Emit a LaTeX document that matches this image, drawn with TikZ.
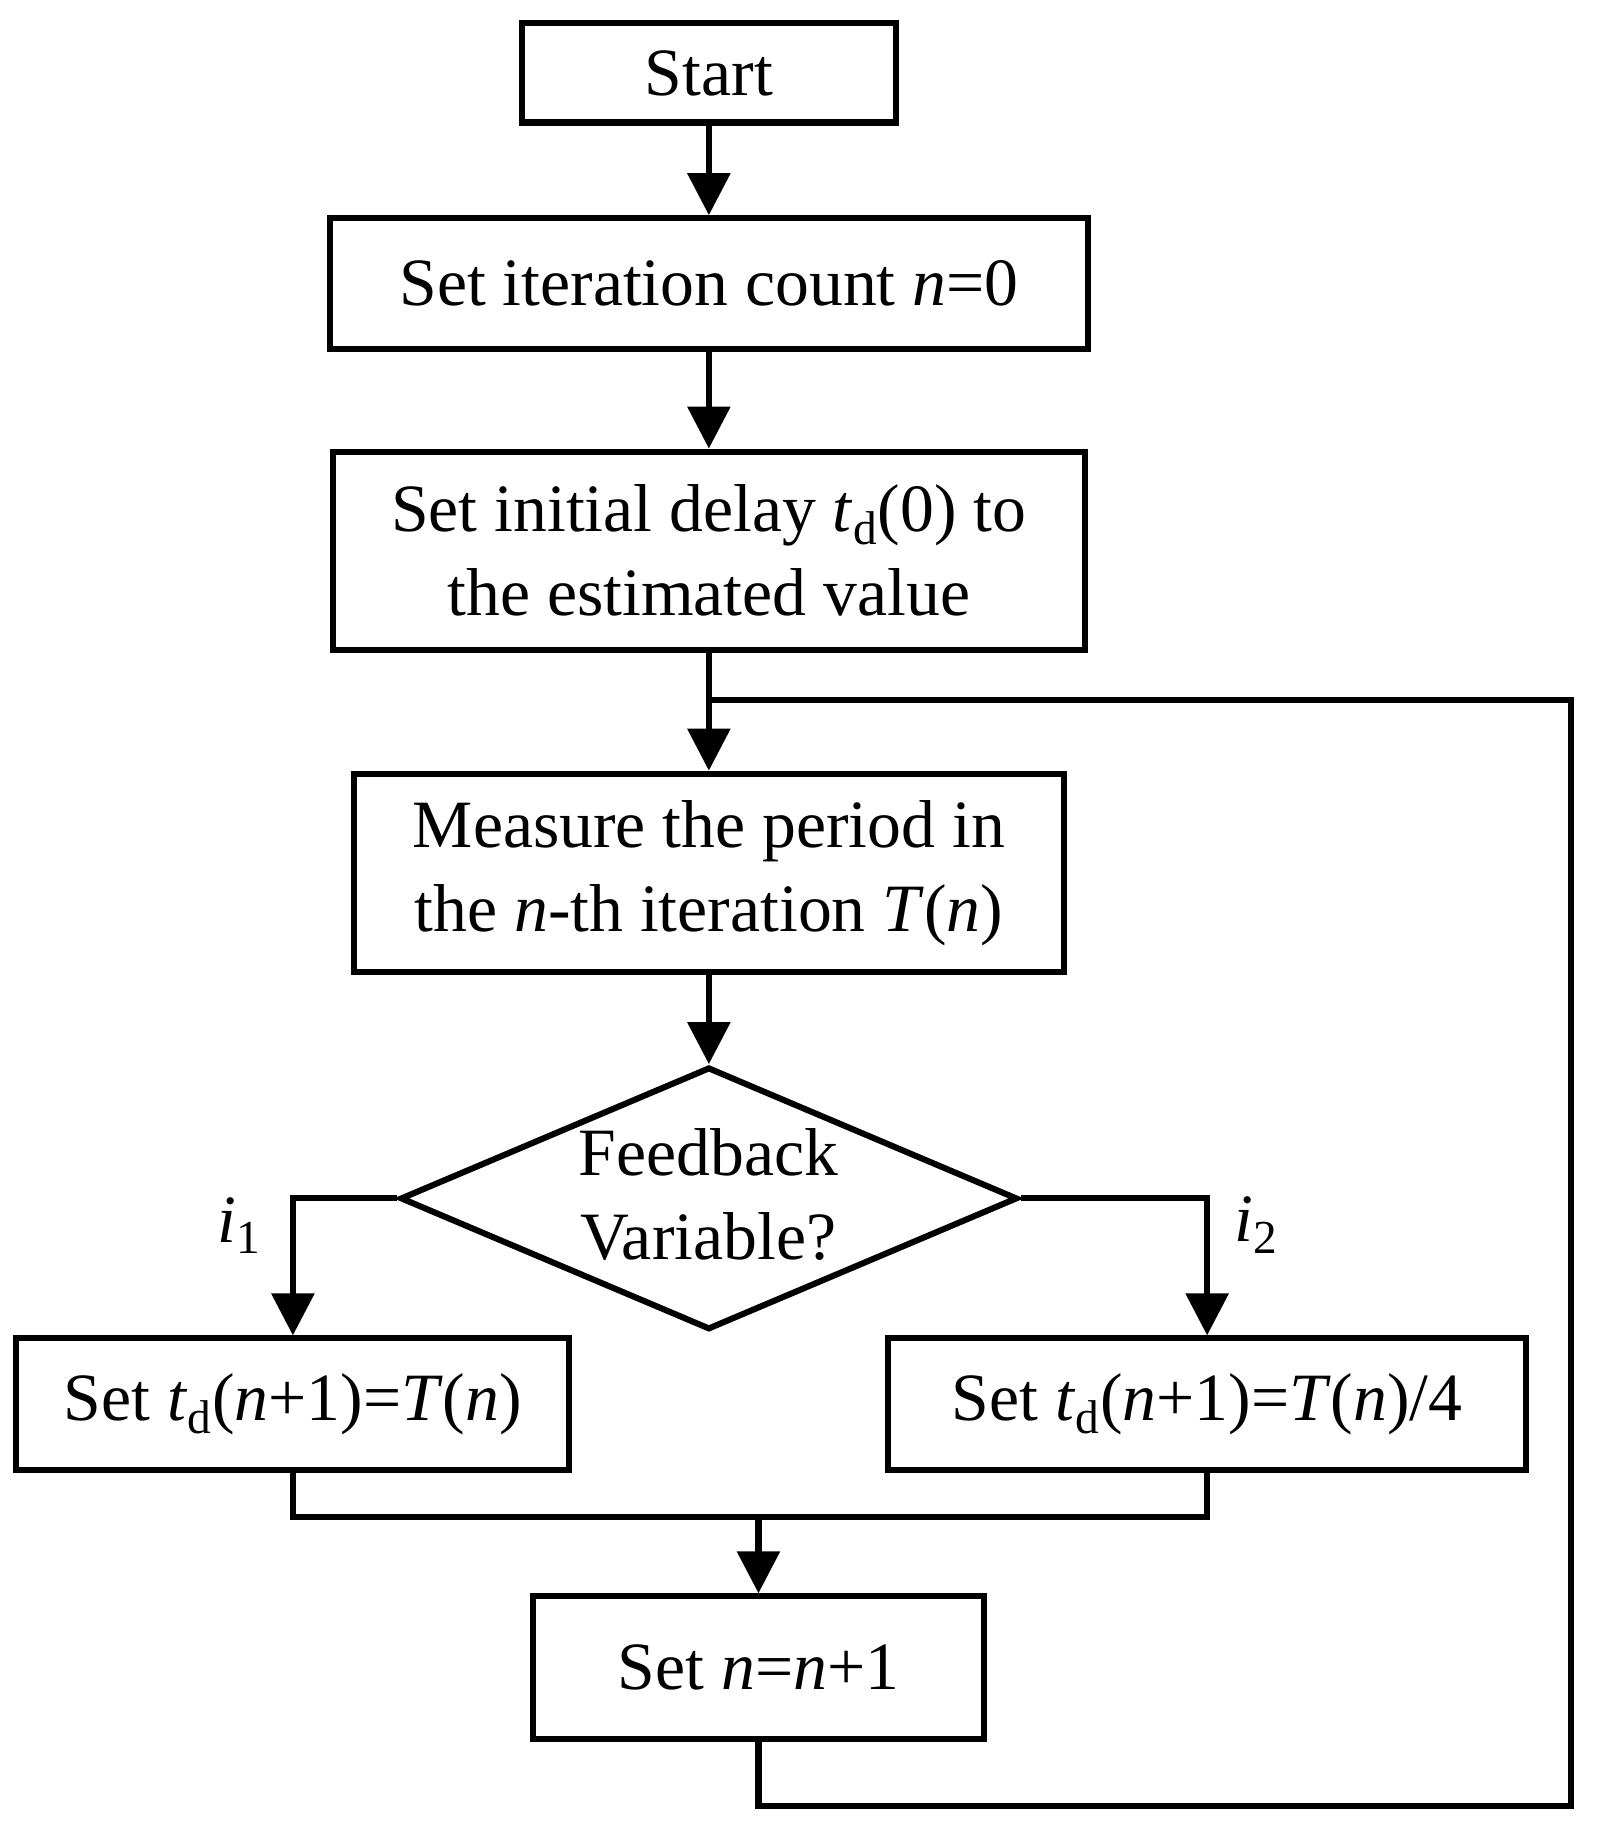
\documentclass[tikz,border=0pt]{standalone}
\usepackage{fontspec}
\setmainfont{Liberation Serif}
\usetikzlibrary{shapes.geometric,arrows.meta}
\newcommand\tdd{\textit{t}\textsubscript{d}}
\newcommand\ii[1]{\textit{#1}}
\begin{document}
\begin{tikzpicture}[x=0.5pt,y=-0.5pt,
  box/.style={draw,line width=2.6pt,minimum height=#1,align=center,inner sep=0pt,font=\fontsize{29}{36}\selectfont},
  ln/.style={line width=2.6pt},
  ar/.style={ln,-{Triangle[length=18pt,width=18pt]}}]
\useasboundingbox (0,0) rectangle (1380,1570);
\node[box=42.5pt,minimum width=160.5pt] (start) at (607.5,62.5) {Start};
\node[box=56pt,minimum width=324.5pt] (iter) at (607.5,243) {Set iteration count \ii{n}=0};
\node[box=85pt,minimum width=322.5pt] (init) at (607.5,472) {Set initial delay \tdd(0) to\\the estimated value};
\node[box=85pt,minimum width=304.5pt] (meas) at (607.5,748) {Measure the period in\\the \ii{n}-th iteration \ii{T}(\ii{n})};
\node[draw,line width=2.6pt,diamond,minimum width=264.5pt,minimum height=112.5pt,inner sep=0pt,align=center,font=\fontsize{29}{36}\selectfont] (dec) at (607.5,1027) {};
\node[font=\fontsize{29}{36}\selectfont,align=center] (dect) at (607,1024) {Feedback\\Variable?};
\node[box=56.5pt,minimum width=237pt] (left) at (251,1203.5) {Set \tdd(\ii{n}+1)=\ii{T}(\ii{n})};
\node[box=56.5pt,minimum width=273.5pt] (right) at (1034.5,1203.5) {Set \tdd(\ii{n}+1)=\ii{T}(\ii{n})/4};
\node[box=61pt,minimum width=193pt] (inc) at (650,1429) {Set \ii{n}=\ii{n}+1};
\coordinate (j1) at (607.5,600);
\coordinate (m) at (650,1300);
\draw[ar] (start) -- (iter);
\draw[ar] (iter) -- (init);
\draw[ar] (init) -- (meas);
\draw[ar] (meas) -- (dec.north);
\draw[ar] (dec.west) -| (left.north);
\draw[ar] (dec.east) -| (right.north);
\draw[ln] (left.south) |- (m) -| (right.south);
\draw[ar] (m) -- (inc);
\draw[ln] (inc.south) |- (1346,1548) |- (j1);
\node[font=\fontsize{29}{36}\selectfont] (i1) at (205,1050) {\ii{i}\textsubscript{1}};
\node[font=\fontsize{29}{36}\selectfont] (i2) at (1077,1050) {\ii{i}\textsubscript{2}};
\end{tikzpicture}
\end{document}
